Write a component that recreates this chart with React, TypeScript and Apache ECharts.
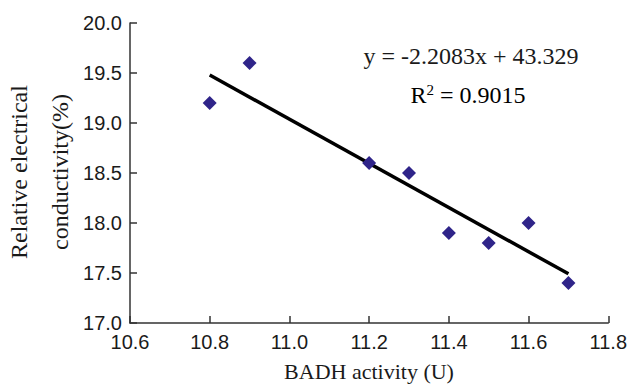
import React, { useEffect, useRef } from "react";
import * as echarts from "echarts";

const badh = [10.8, 10.9, 11.2, 11.3, 11.4, 11.5, 11.6, 11.7];
const conductivity = [19.2, 19.6, 18.6, 18.5, 17.9, 17.8, 18.0, 17.4];
const slope = -2.2083;
const intercept = 43.329;
const trendX = [10.8, 11.7];
const equationText = "y = -2.2083x + 43.329";
const xTitle = "BADH activity (U)";
const yTitleLines = ["Relative electrical", "conductivity(%)"];

export default function App() {
  const ref = useRef<HTMLDivElement>(null);
  useEffect(() => {
    if (!ref.current) return;
    const chart = echarts.init(ref.current, null, { renderer: "svg" });
    const sans = "Liberation Sans";
    const serif = "Liberation Serif";
    const titleStyle = (text: string, size: number) => ({
      text,
      fontFamily: serif,
      fontSize: size,
      fill: "#1a1a1a",
      align: "center",
      verticalAlign: "middle",
    });
    chart.setOption({
      animation: false,
      backgroundColor: "#ffffff",
      grid: { left: 130, right: 20, top: 23, bottom: 64 },
      xAxis: {
        type: "value",
        min: 10.6,
        max: 11.8,
        interval: 0.2,
        splitLine: { show: false },
        axisLine: { lineStyle: { color: "#333", width: 1.5 } },
        axisTick: { inside: true, length: 7, lineStyle: { color: "#333", width: 1.5 } },
        axisLabel: { color: "#1a1a1a", fontFamily: sans, fontSize: 20, margin: 9, formatter: (v: number) => v.toFixed(1) },
      },
      yAxis: {
        type: "value",
        min: 17,
        max: 20,
        interval: 0.5,
        splitLine: { show: false },
        axisLine: { show: true, lineStyle: { color: "#333", width: 1.5 } },
        axisTick: { show: true, inside: true, length: 7, lineStyle: { color: "#333", width: 1.5 } },
        axisLabel: { color: "#1a1a1a", fontFamily: sans, fontSize: 20, margin: 8, formatter: (v: number) => v.toFixed(1) },
      },
      graphic: [
        { type: "text", x: 471, y: 56, style: titleStyle(equationText, 24) },
        {
          type: "text",
          x: 468,
          y: 95,
          style: {
            text: "{r|R}{sup|2}{r| = 0.9015}",
            align: "center",
            verticalAlign: "middle",
            rich: {
              r: { fontFamily: serif, fontSize: 24, color: "#1a1a1a", lineHeight: 26 },
              sup: { fontFamily: serif, fontSize: 15, color: "#1a1a1a", verticalAlign: "top", lineHeight: 26 },
            },
          },
        },
        { type: "text", x: 369, y: 371, style: titleStyle(xTitle, 22) },
        { type: "text", x: 19, y: 172, rotation: Math.PI / 2, style: titleStyle(yTitleLines[0], 24) },
        { type: "text", x: 60, y: 172, rotation: Math.PI / 2, style: titleStyle(yTitleLines[1], 24) },
      ],
      series: [
        {
          type: "line",
          data: trendX.map((x) => [x, slope * x + intercept]),
          symbol: "none",
          lineStyle: { color: "#000", width: 3.5 },
          z: 2,
        },
        {
          type: "scatter",
          data: badh.map((x, i) => [x, conductivity[i]]),
          symbol: "diamond",
          symbolSize: 14,
          itemStyle: { color: "#2f2489", opacity: 1 },
          z: 3,
        },
      ],
    });
    return () => chart.dispose();
  }, []);
  return <div ref={ref} style={{ width: 630, height: 387, position: "absolute", left: 0, top: 0 }} />;
}
